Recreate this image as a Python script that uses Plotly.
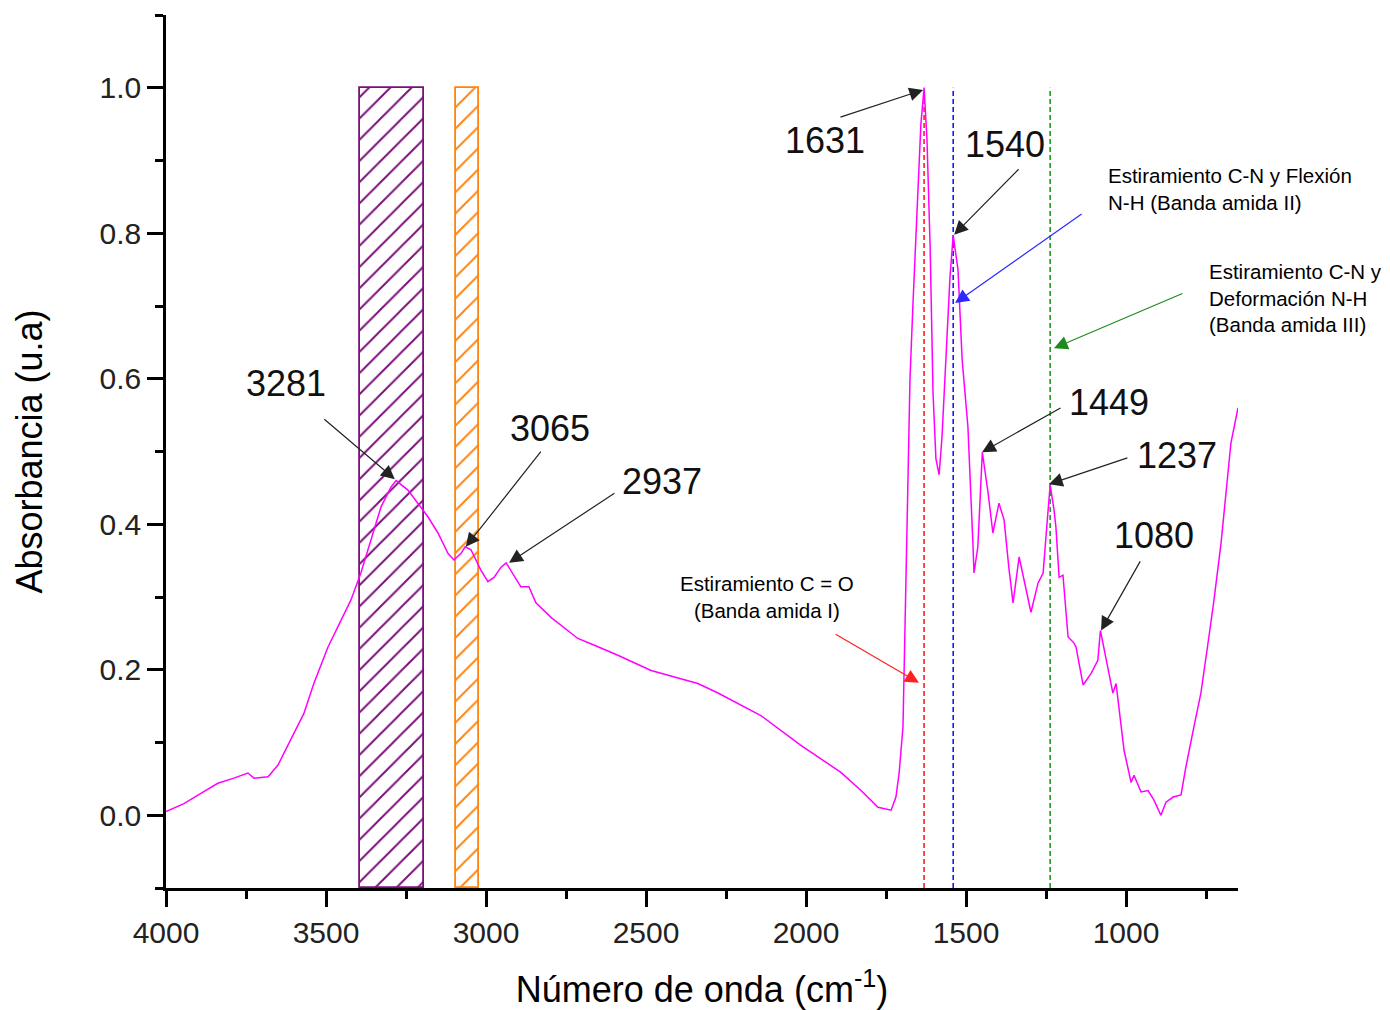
import plotly.graph_objects as go

# ---- data ----
wavenumber = [4000, 3944, 3891, 3838, 3788, 3744, 3725, 3681, 3650, 3631, 3600, 3569, 3538, 3494, 3463,
              3422, 3391, 3359, 3328, 3297, 3281, 3244, 3213, 3181, 3150, 3119, 3100, 3078, 3065, 3047,
              3016, 2994, 2975, 2953, 2937, 2900, 2891, 2866, 2844, 2797, 2713, 2663, 2588, 2484, 2381,
              2338, 2275, 2141, 2016, 1891, 1828, 1775, 1734, 1719, 1709, 1697, 1691, 1684, 1675, 1666,
              1650, 1641, 1631, 1622, 1612, 1603, 1594, 1584, 1575, 1563, 1550, 1540, 1525, 1512, 1494,
              1478, 1475, 1463, 1453, 1449, 1431, 1416, 1397, 1381, 1366, 1353, 1334, 1319, 1297, 1275,
              1259, 1247, 1237, 1225, 1219, 1209, 1197, 1181, 1163, 1156, 1134, 1109, 1088, 1080, 1056,
              1041, 1031, 1006, 984, 975, 953, 931, 913, 891, 875, 853, 828, 813, 788, 766,
              741, 725, 703, 672, 650]
absorbance = [0.005, 0.016, 0.030, 0.044, 0.051, 0.058, 0.051, 0.053, 0.069, 0.085, 0.113, 0.140, 0.181, 0.231, 0.259,
              0.296, 0.333, 0.378, 0.424, 0.451, 0.460, 0.447, 0.429, 0.410, 0.388, 0.360, 0.351, 0.360, 0.369, 0.365,
              0.337, 0.321, 0.327, 0.341, 0.347, 0.319, 0.314, 0.314, 0.292, 0.272, 0.243, 0.234, 0.220, 0.199, 0.186,
              0.181, 0.168, 0.137, 0.096, 0.059, 0.034, 0.011, 0.007, 0.025, 0.058, 0.121, 0.25, 0.40, 0.60, 0.70,
              0.85, 0.95, 1.0, 0.93, 0.78, 0.58, 0.49, 0.468, 0.52, 0.62, 0.74, 0.797, 0.75, 0.626, 0.534,
              0.369, 0.333, 0.369, 0.46, 0.499, 0.443, 0.388, 0.429, 0.406, 0.34, 0.292, 0.355, 0.323, 0.279, 0.319,
              0.333, 0.40, 0.454, 0.42, 0.396, 0.327, 0.33, 0.245, 0.237, 0.231, 0.179, 0.195, 0.213, 0.254, 0.199,
              0.168, 0.181, 0.089, 0.045, 0.055, 0.032, 0.034, 0.021, 0.0, 0.018, 0.025, 0.028, 0.066, 0.121, 0.168,
              0.245, 0.296, 0.374, 0.512, 0.560]

# hatched bands (start, end) in cm-1
band_purple = [3395, 3195]
band_orange = [3095, 3022]

# band lines
band_lines = [1631, 1540, 1237]
band_colors = ["#FF2020", "#1A1AFF", "#1E9A1E"]

# peak labels: text, head (x,y), tail (x,y), label (x,y)
peak_text = ["3281", "3065", "2937", "1631", "1540", "1449", "1237", "1080"]
peak_head = [(3285, 0.462), (3063, 0.369), (2928, 0.347), (1634, 0.997), (1537, 0.798), (1450, 0.499), (1241, 0.455), (1078, 0.254)]
peak_tail = [(3510, 0.546), (2825, 0.502), (2594, 0.444), (1897, 0.959), (1331, 0.890), (1200, 0.561), (991, 0.492), (953, 0.351)]
peak_label = [(3625, 0.594), (2800, 0.532), (2450, 0.459), (1941, 0.928), (1378, 0.922), (1053, 0.567), (841, 0.495), (912, 0.384)]

# band notes: text, position, anchor, arrow head, arrow tail, colour
note_text = ["Estiramiento C = O<br>(Banda amida I)",
             "Estiramiento C-N y Flexión<br>N-H (Banda amida II)",
             "Estiramiento C-N y<br>Deformación N-H<br>(Banda amida III)"]
note_pos = [(2122, 0.300), (1062, 0.861), (747, 0.711)]
note_anchor = ["center", "left", "left"]
note_head = [(1647, 0.182), (1534, 0.704), (1225, 0.642)]
note_tail = [(1912, 0.250), (1134, 0.828), (819, 0.718)]
note_color = ["#FF2020", "#2A2AFF", "#1E8A1E"]

FONT = "Liberation Sans, Arial, sans-serif"

fig = go.Figure()

for band, col in [(band_purple, "#7A0F7A"), (band_orange, "#FF8410")]:
    fig.add_trace(go.Bar(
        x=[(band[0] + band[1]) / 2], y=[1.1], base=[-0.1], width=[abs(band[0] - band[1])],
        marker=dict(color="rgba(255,255,255,0)", line=dict(color=col, width=1.8),
                    pattern=dict(shape="/", fgcolor=col, fgopacity=1, bgcolor="rgba(255,255,255,0)",
                                 size=15, solidity=0.13)),
        showlegend=False, hoverinfo="skip"))

for xv, col in zip(band_lines, band_colors):
    fig.add_trace(go.Scatter(x=[xv, xv], y=[-0.1, 1.0], mode="lines",
                             line=dict(color=col, width=1.6, dash="5px,3px"),
                             showlegend=False, hoverinfo="skip"))

fig.add_trace(go.Scatter(x=wavenumber, y=absorbance, mode="lines",
                         line=dict(color="#FF00FF", width=1.5), showlegend=False))

ann = []
for t, h, tl, lb in zip(peak_text, peak_head, peak_tail, peak_label):
    ann.append(dict(x=h[0], y=h[1], ax=tl[0], ay=tl[1], xref="x", yref="y", axref="x", ayref="y",
                    text="", showarrow=True, arrowhead=2, arrowsize=2.3, arrowwidth=1.2, arrowcolor="#222222"))
    ann.append(dict(x=lb[0], y=lb[1], xref="x", yref="y", text=t, showarrow=False,
                    font=dict(family=FONT, size=36, color="#111111")))
for t, p, a, h, tl, c in zip(note_text, note_pos, note_anchor, note_head, note_tail, note_color):
    ann.append(dict(x=p[0], y=p[1], xref="x", yref="y", text=t, showarrow=False, xanchor=a, align=a,
                    font=dict(family=FONT, size=20.5, color="#000000")))
    ann.append(dict(x=h[0], y=h[1], ax=tl[0], ay=tl[1], xref="x", yref="y", axref="x", ayref="y",
                    text="", showarrow=True, arrowhead=2, arrowsize=2.3, arrowwidth=1.2, arrowcolor=c))

fig.update_layout(
    width=1390, height=1010, autosize=False,
    margin=dict(l=166, r=152, t=15, b=122),
    paper_bgcolor="white", plot_bgcolor="white",
    barmode="overlay", bargap=0,
    font=dict(family=FONT, color="#222222"),
    annotations=ann,
    xaxis=dict(range=[4000, 650], tick0=0, dtick=500, showgrid=False, zeroline=False,
               showline=True, linecolor="black", linewidth=2.5, mirror=False,
               ticks="outside", ticklen=16, tickwidth=2.5, tickcolor="black",
               tickfont=dict(family=FONT, size=30, color="#222222"),
               minor=dict(dtick=250, tick0=0, ticks="outside", ticklen=8, tickwidth=2.5, tickcolor="black"),
               title=dict(text="Número de onda (cm<sup>-1</sup>)", standoff=32,
                          font=dict(family=FONT, size=36, color="#000000")),
               automargin=False),
    yaxis=dict(range=[-0.1, 1.1], tick0=0, dtick=0.2, tickformat=".1f", showgrid=False, zeroline=False,
               showline=True, linecolor="black", linewidth=2.5,
               ticks="outside", ticklen=16, tickwidth=2.5, tickcolor="black",
               tickfont=dict(family=FONT, size=30, color="#222222"),
               minor=dict(dtick=0.1, tick0=0, ticks="outside", ticklen=8, tickwidth=2.5, tickcolor="black"),
               title=dict(text="Absorbancia (u.a)", standoff=46,
                          font=dict(family=FONT, size=36, color="#000000")),
               automargin=False),
)

fig.write_html("out.html")
